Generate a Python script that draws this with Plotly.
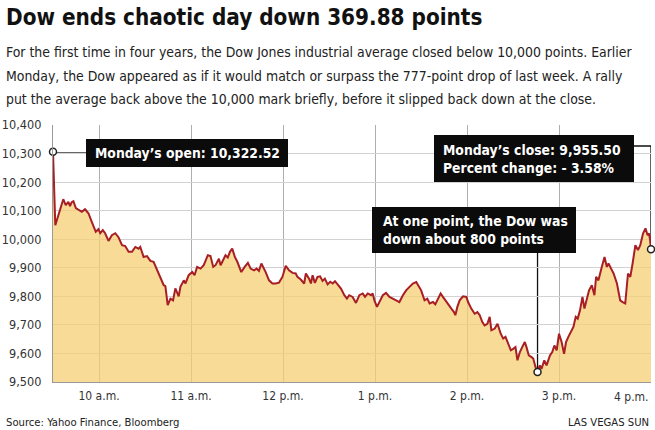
import plotly.graph_objects as go

# ---------------- data ----------------
# minutes after the 9:30 a.m. open
minutes = [0, 1.5, 6.7, 8.3, 10.0, 11.1, 12.2, 13.3, 14.9, 16.6, 18.8, 20.9, 23.1, 25.3, 26.4, 27.9, 29.6,
           30.8, 32.5, 34.0, 36.2, 38.4, 40.6, 42.7, 45.0, 47.1, 49.3, 51.5, 53.7, 55.8, 56.9, 59.1, 61.3,
           62.4, 63.5, 65.6, 67.9, 70.0, 72.2, 73.3, 74.8, 76.6, 78.3, 79.8, 82.0, 83.1, 85.3, 86.4, 88.5,
           90.8, 92.3, 94.0, 96.2, 98.3, 101.0, 102.7, 104.5, 106.0, 108.2, 109.3, 111.4, 112.5, 114.0,
           115.4, 116.9, 118.6, 120.2, 122.8, 125.0, 127.1, 128.9, 131.1, 132.8, 134.3, 135.9, 137.2,
           138.7, 140.9, 143.1, 145.3, 147.4, 149.6, 151.8, 153.9, 156.2, 158.3, 159.4, 161.6, 163.8,
           164.9, 167.0, 168.2, 169.3, 170.8, 172.5, 174.2, 175.8, 177.3, 179.1, 180.8, 182.4, 183.9,
           185.6, 187.8, 190.0, 191.7, 193.2, 195.4, 197.6, 199.8, 202.0, 203.5, 205.3, 207.4, 208.5,
           209.6, 211.3, 212.8, 215.1, 217.2, 219.4, 221.6, 223.8, 225.9, 228.2, 230.3, 232.5, 234.7,
           236.9, 238.0, 240.1, 242.3, 244.1, 245.6, 247.8, 249.3, 251.1, 252.8, 254.3, 256.5, 258.0,
           259.8, 261.5, 262.4, 263.7, 265.2, 267.4, 269.6, 270.7, 272.8, 275.0, 276.8, 278.3, 280.0,
           281.5, 283.3, 284.8, 285.9, 288.1, 289.9, 292.0, 293.6, 295.1, 296.9, 298.6, 300.1, 301.6,
           302.9, 304.5, 306.0, 307.7, 308.8, 310.3, 312.1, 313.2, 314.7, 316.0, 317.5, 318.6, 320.4,
           321.9, 324.1, 325.6, 327.0, 328.5, 330.0, 331.7, 333.3, 334.6, 336.1, 337.8, 339.4, 340.9,
           342.2, 343.7, 345.3, 346.6, 348.1, 349.6, 351.4, 353.1, 354.2, 355.7, 357.9, 359.7, 361.2,
           362.3, 364.0, 365.6, 367.8, 369.9, 371.5, 373.2, 375.0, 376.5, 378.0, 379.8, 381.5, 383.0,
           384.8, 386.4, 387.8, 388.8, 389.4, 390]
dow = [10306, 10049, 10140, 10119, 10131, 10116, 10130, 10133, 10109, 10102, 10096, 10105, 10091, 10061,
       10043, 10026, 10035, 10021, 10032, 10021, 9994, 10014, 10021, 10007, 9979, 9976, 9956, 9956, 9973,
       9967, 9973, 9938, 9941, 9932, 9924, 9921, 9891, 9868, 9839, 9836, 9769, 9792, 9786, 9828, 9800,
       9833, 9856, 9845, 9874, 9885, 9874, 9903, 9897, 9909, 9944, 9941, 9903, 9909, 9932, 9909, 9932,
       9944, 9936, 9956, 9967, 9938, 9921, 9885, 9903, 9917, 9897, 9891, 9897, 9889, 9915, 9903, 9885,
       9856, 9845, 9845, 9848, 9868, 9907, 9891, 9882, 9880, 9868, 9859, 9845, 9880, 9862, 9845, 9874,
       9847, 9868, 9870, 9854, 9862, 9842, 9851, 9845, 9853, 9842, 9827, 9804, 9792, 9804, 9798, 9777,
       9804, 9810, 9798, 9810, 9804, 9810, 9786, 9763, 9780, 9804, 9812, 9798, 9792, 9786, 9780, 9804,
       9821, 9833, 9845, 9850, 9839, 9821, 9786, 9792, 9775, 9780, 9772, 9792, 9810, 9798, 9780, 9769,
       9757, 9745, 9734, 9763, 9786, 9800, 9798, 9780, 9757, 9739, 9745, 9734, 9710, 9698, 9704, 9728,
       9681, 9687, 9704, 9669, 9652, 9658, 9634, 9611, 9616, 9622, 9576, 9605, 9622, 9640, 9622, 9593,
       9587, 9582, 9552, 9535, 9558, 9546, 9576, 9558, 9593, 9605, 9628, 9611, 9669, 9640, 9599, 9640,
       9658, 9675, 9693, 9728, 9722, 9751, 9798, 9757, 9792, 9821, 9839, 9804, 9868, 9856, 9903, 9938,
       9903, 9915, 9897, 9880, 9845, 9786, 9780, 9775, 9880, 9868, 9915, 9979, 9962, 9979, 10020, 10038,
       10014, 10020, 9997, 9965]
assert len(minutes) == len(dow), (len(minutes), len(dow))

callout_minutes = [0, 316.0, 390]          # open, intraday low, close
callout_values = [10306, 9535, 9965]

x_tick_minutes = [30, 90, 150, 210, 270, 330, 390]
x_tick_labels = ["10 a.m.", "11 a.m.", "12 p.m.", "1 p.m.", "2 p.m.", "3 p.m.", "4 p.m."]
y_tick_values = [9500, 9600, 9700, 9800, 9900, 10000, 10100, 10200, 10300, 10400]

title_text = "Dow ends chaotic day down 369.88 points"
intro_lines = [
    "For the first time in four years, the Dow Jones industrial average closed below 10,000 points. Earlier",
    "Monday, the Dow appeared as if it would match or surpass the 777-point drop of last week. A rally",
    "put the average back above the 10,000 mark briefly, before it slipped back down at the close.",
]
open_label = "Monday’s open: 10,322.52"
low_label = "At one point, the Dow was<br>down about 800 points"
close_label = "Monday’s close: 9,955.50<br>Percent change: - 3.58%"
source_text = "Source: Yahoo Finance, Bloomberg"
credit_text = "LAS VEGAS SUN"

# ---------------- layout helpers ----------------
W, H = 655, 430
ML, MR, MT, MB = 53, 4, 125, 48
PW, PH = W - ML - MR, H - MT - MB
X_RANGE = [0, 390]
Y_RANGE = [9500, 10400]
FONT = "DejaVu Sans Condensed, DejaVu Sans, sans-serif"


def px_x(px):
    return (px - ML) / PW


def px_y(py):
    return (H - MB - py) / PH


def px_to_min(px):
    return X_RANGE[0] + (px - ML) / PW * (X_RANGE[1] - X_RANGE[0])


def px_to_val(py):
    return Y_RANGE[1] - (py - MT) / PH * (Y_RANGE[1] - Y_RANGE[0])


fig = go.Figure()
fig.add_trace(go.Scatter(
    x=minutes, y=dow, mode="lines", fill="tozeroy",
    fillcolor="rgba(244,207,115,0.75)",
    line=dict(color="#a81e25", width=2), hoverinfo="skip"))
fig.add_trace(go.Scatter(
    x=callout_minutes, y=callout_values, mode="markers", cliponaxis=False,
    marker=dict(size=7, color="white", line=dict(color="#222", width=1.5)), hoverinfo="skip"))

shapes = []
# black label boxes
for (x0, x1, y0, y1) in [(86, 288, 139, 167), (372, 576, 207, 253), (434, 634, 135, 182)]:
    shapes.append(dict(type="rect", xref="paper", yref="paper", x0=px_x(x0), x1=px_x(x1),
                       y0=px_y(y1), y1=px_y(y0), fillcolor="#0b0b0b", line=dict(width=0), layer="above"))
# leader lines
shapes.append(dict(type="line", xref="x", yref="y", x0=callout_minutes[0], x1=px_to_min(86),
                   y0=px_to_val(153), y1=px_to_val(153), line=dict(color="#666", width=2), layer="below"))
shapes.append(dict(type="line", xref="x", yref="y", x0=callout_minutes[1], x1=callout_minutes[1],
                   y0=callout_values[1], y1=px_to_val(253), line=dict(color="#111", width=1.3), layer="below"))
shapes.append(dict(type="path", xref="x", yref="y",
                   path=f"M {px_to_min(634)} {px_to_val(146)} L {callout_minutes[2]} {px_to_val(146)} "
                        f"L {callout_minutes[2]} {callout_values[2]}",
                   line=dict(color="#111", width=1.3), layer="below"))

ann = []
ann.append(dict(text=title_text, xref="paper", yref="paper", x=px_x(4), y=px_y(17),
                xanchor="left", yanchor="middle", showarrow=False,
                font=dict(family=FONT, size=22.3, color="#111", weight="bold")))
for i, line in enumerate(intro_lines):
    ann.append(dict(text=line, xref="paper", yref="paper", x=px_x(4), y=px_y(52.5 + 23.3 * i),
                    xanchor="left", yanchor="middle", showarrow=False,
                    font=dict(family=FONT, size=13.9, color="#222")))
box_font = dict(family=FONT, size=13.8, color="white", weight="bold")
ann.append(dict(text=open_label, xref="paper", yref="paper", x=px_x(187), y=px_y(153),
                xanchor="center", yanchor="middle", showarrow=False, font=box_font))
ann.append(dict(text=low_label, xref="paper", yref="paper", x=px_x(381), y=px_y(230),
                xanchor="left", yanchor="middle", align="left", showarrow=False, font=box_font))
ann.append(dict(text=close_label, xref="paper", yref="paper", x=px_x(441), y=px_y(158.5),
                xanchor="left", yanchor="middle", align="left", showarrow=False, font=box_font))
ann.append(dict(text=x_tick_labels[-1], xref="paper", yref="paper", x=px_x(651), y=px_y(397),
                xanchor="right", yanchor="middle", showarrow=False,
                font=dict(family=FONT, size=12, color="#333")))
ann.append(dict(text=source_text, xref="paper", yref="paper", x=px_x(4), y=px_y(423),
                xanchor="left", yanchor="middle", showarrow=False,
                font=dict(family=FONT, size=11.2, color="#222")))
ann.append(dict(text=credit_text, xref="paper", yref="paper", x=px_x(651), y=px_y(423),
                xanchor="right", yanchor="middle", showarrow=False,
                font=dict(family=FONT, size=11.2, color="#222")))

fig.update_layout(
    width=W, height=H, margin=dict(l=ML, r=MR, t=MT, b=MB, pad=0),
    paper_bgcolor="white", plot_bgcolor="white", showlegend=False,
    font=dict(family=FONT, size=13, color="#333"),
    shapes=shapes, annotations=ann,
    xaxis=dict(range=X_RANGE, tickvals=x_tick_minutes, automargin=False,
               ticktext=x_tick_labels[:-1] + [""], showgrid=True, gridcolor="#aeaeae", gridwidth=1,
               showline=True, linecolor="#9a9a9a", linewidth=1, zeroline=False, ticks="",
               ticklabelstandoff=3, tickfont=dict(family=FONT, size=12, color="#333"), fixedrange=True),
    yaxis=dict(range=Y_RANGE, tickvals=y_tick_values, tickformat=",", showgrid=True, automargin=False,
               gridcolor="#d2d2d2", gridwidth=1, showline=True, linecolor="#9a9a9a", linewidth=1,
               zeroline=False, ticks="", ticklabelstandoff=8,
               tickfont=dict(family=FONT, size=12.6, color="#333"), fixedrange=True),
)

fig.write_html("out.html")
